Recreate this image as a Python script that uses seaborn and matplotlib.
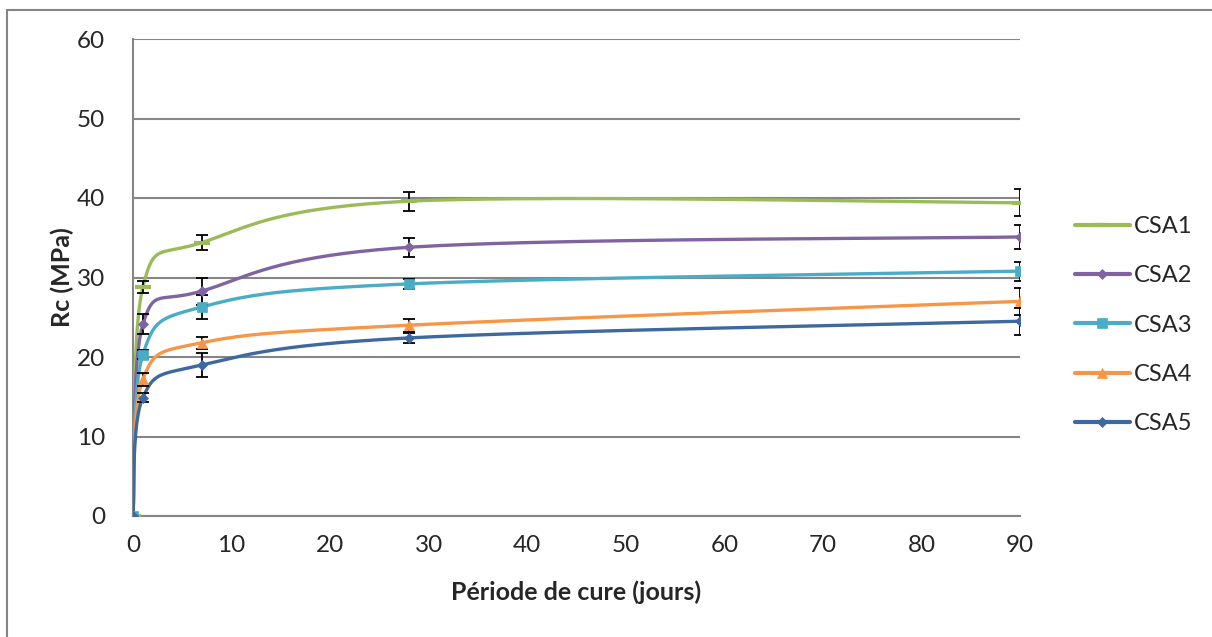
import numpy as np
import pandas as pd
import seaborn as sns
import matplotlib.pyplot as plt
from matplotlib.lines import Line2D
from matplotlib.patches import Rectangle

# curing days and compressive strength (MPa)
days = [0, 1, 7, 28, 90]
series = ['CSA1', 'CSA2', 'CSA3', 'CSA4', 'CSA5']
csa1 = [0, 28.8, 34.4, 39.6, 39.4]
csa2 = [0, 24.1, 28.3, 33.8, 35.1]
csa3 = [0, 20.3, 26.3, 29.2, 30.8]
csa4 = [0, 17.2, 21.8, 24.0, 27.0]
csa5 = [0, 14.9, 19.0, 22.4, 24.5]
err1 = [0, 0.75, 1.0, 1.2, 1.7]
err2 = [0, 1.25, 1.7, 1.2, 1.5]
err3 = [0, 0.6, 1.5, 0.6, 1.2]
err4 = [0, 0.8, 0.75, 0.8, 1.7]
err5 = [0, 0.6, 1.5, 0.6, 1.7]

values = [csa1, csa2, csa3, csa4, csa5]
errors = [err1, err2, err3, err4, err5]
colors = ['#9BBB59', '#8064A2', '#4BACC6', '#F79646', '#3E68A0']
markers = ['_', 'D', 's', '^', 'D']
msizes = [11, 5.5, 7, 7, 5.5]


def smooth(x, y, n=60):
    # Excel-like smoothed line: bezier segments, control points at 1/6 of neighbour span
    p = np.column_stack([x, y]).astype(float)
    pts = []
    for i in range(len(p) - 1):
        p0 = p[max(i - 1, 0)]
        p1, p2 = p[i], p[i + 1]
        p3 = p[min(i + 2, len(p) - 1)]
        c1 = p1 + (p2 - p0) / 6
        c2 = p2 - (p3 - p1) / 6
        t = np.linspace(0, 1, n)[:, None]
        seg = ((1 - t) ** 3) * p1 + 3 * ((1 - t) ** 2) * t * c1 + 3 * (1 - t) * t ** 2 * c2 + t ** 3 * p2
        pts.append(seg)
    pts = np.vstack(pts)
    return pts[:, 0], pts[:, 1]


sns.set_style('white')
plt.rcParams['font.family'] = ['Lato', 'DejaVu Sans']

fig = plt.figure(figsize=(12.12, 6.37), dpi=100)
ax = fig.add_axes([133 / 1212, 1 - 516 / 637, (1020 - 133) / 1212, (516 - 39) / 637])

# outer chart-area frame
fig.patches.append(Rectangle((7 / 1212, -0.1), 1.2, 1 - 10 / 637 + 0.1, transform=fig.transFigure,
                             fill=False, edgecolor='#868686', linewidth=1.5, zorder=0))

handles = []
for name, vals, errs, col, mk, ms in zip(series, values, errors, colors, markers, msizes):
    sx, sy = smooth(days, vals)
    curve = pd.DataFrame({'x': sx, 'y': sy})
    sns.lineplot(data=curve, x='x', y='y', sort=False, estimator=None, color=col,
                 linewidth=2.4, ax=ax, zorder=3)
    ax.errorbar(days, vals, yerr=errs, fmt='none', ecolor='black', elinewidth=1.3,
                capsize=4.5, capthick=1.3, zorder=4)
    ax.plot(days, vals, linestyle='none', marker=mk, markersize=ms, color=col,
            markeredgewidth=3 if mk == '_' else 0.5, zorder=5)
    handles.append(Line2D([0], [0], color=col, linewidth=3, marker=mk, markersize=ms,
                          markeredgewidth=3 if mk == '_' else 0.5, label=name))

ax.set_xlim(0, 90)
ax.set_ylim(0, 60)
ax.set_xticks(range(0, 91, 10))
ax.set_yticks(range(0, 61, 10))
ax.grid(axis='y', color='#868686', linewidth=1.5)
ax.grid(axis='x', visible=False)
ax.tick_params(axis='both', labelsize=17.5, length=0)
ax.tick_params(axis='y', pad=20)
ax.tick_params(axis='x', pad=14)

for s in ['top', 'right']:
    ax.spines[s].set_visible(False)
for s in ['left', 'bottom']:
    ax.spines[s].set_color('#868686')
    ax.spines[s].set_linewidth(1.5)

ax.set_xlabel('Période de cure (jours)', fontsize=18, fontweight='bold')
ax.set_ylabel('Rc (MPa)', fontsize=18, fontweight='bold')
ax.xaxis.set_label_coords(0.5, -(592 - 516) / 477, transform=ax.transAxes)
ax.yaxis.set_label_coords(-(133 - 62) / 887, 0.5, transform=ax.transAxes)
ax.xaxis.label.set_va('center')
ax.yaxis.label.set_va('center')

fig.legend(handles=handles, loc='center left', bbox_to_anchor=(1054 / 1212, 1 - 325 / 637),
           frameon=False, fontsize=17, handlelength=2.3, handletextpad=0.2, labelspacing=1.2)

plt.savefig('out.png', dpi=100)
